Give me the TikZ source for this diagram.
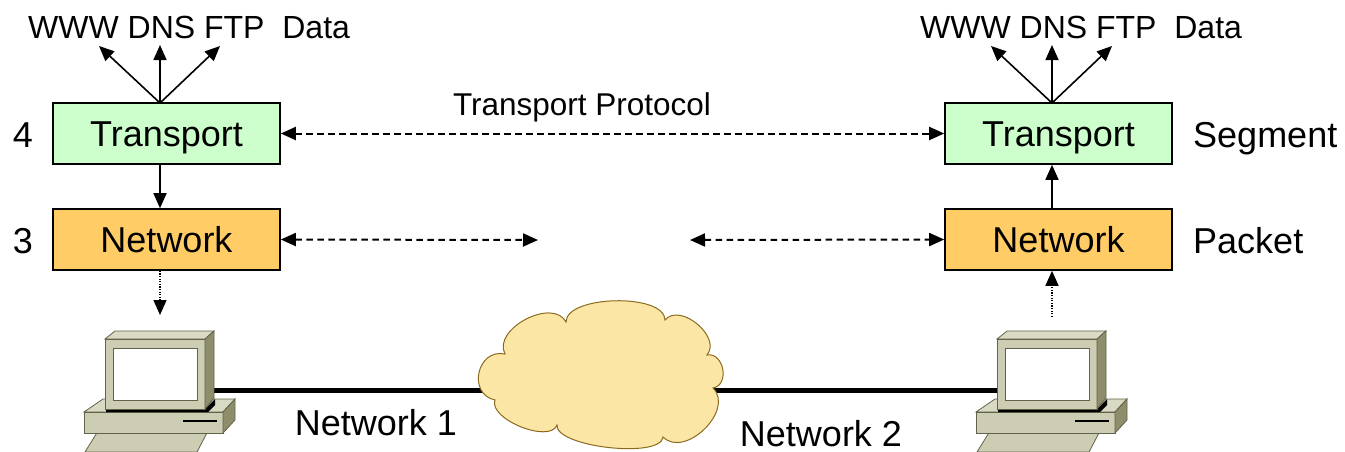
\documentclass[tikz,border=0pt]{standalone}
\usepackage{fontspec}
\setmainfont{Liberation Sans}
\usetikzlibrary{arrows.meta}

\definecolor{transportfill}{HTML}{CCFFCC}
\definecolor{networkfill}{HTML}{FFCC66}
\definecolor{cloudfill}{HTML}{FCE6A6}
\definecolor{cloudline}{HTML}{8B6A1E}
\definecolor{pcfront}{HTML}{CDCDB3}
\definecolor{pctop}{HTML}{DADAC4}
\definecolor{pcside}{HTML}{8E8E6C}
\definecolor{pcline}{HTML}{62624A}

\tikzset{
  layerbox/.style={draw=black, line width=1.6pt, minimum width=227pt,
    minimum height=61pt, inner sep=0pt, text height=26pt, text depth=0pt,
    font=\fontsize{36}{40}\selectfont},
  sidelabel/.style={inner sep=0pt, anchor=base, font=\fontsize{36}{40}\selectfont},
  applabel/.style={inner sep=0pt, anchor=base west, font=\fontsize{32}{36}\selectfont},
  protolabel/.style={inner sep=0pt, anchor=base, font=\fontsize{31.5}{34}\selectfont},
  tip/.style={-{Triangle[length=15pt,width=13pt]}},
  solidarrow/.style={tip, line width=1.6pt},
  peerarrow/.style={{Triangle[length=15pt,width=13pt]}-{Triangle[length=15pt,width=13pt]},
    line width=2pt, dash pattern=on 6.5pt off 4.5pt},
  dotarrow/.style={tip, line width=1.6pt, dash pattern=on 1.2pt off 1.4pt},
  cable/.style={line width=5pt, black},
  pc/.pic={
    % keyboard
    \filldraw[fill=pcfront, draw=pcline, line width=0.8pt]
      (-7,92) -- (103,92) -- (92,113) -- (-20,113) -- cycle;
    % base unit
    \filldraw[fill=pctop, draw=pcline, line width=0.8pt]
      (-21,73) -- (-2,60) -- (130,60) -- (118,73) -- cycle;
    \filldraw[fill=pcfront, draw=pcline, line width=0.8pt]
      (-21,73) rectangle (118,94);
    \filldraw[fill=pcside, draw=pcline, line width=0.8pt]
      (118,73) -- (130,60) -- (130,81) -- (118,94) -- cycle;
    \draw[line width=1.6pt, black] (78,82) -- (112,82);
    % shadow under the monitor
    \fill[black] (1,69) -- (101,69) -- (110,60) -- (110,66) -- (103,73) -- (1,73) -- cycle;
    % monitor
    \filldraw[fill=pctop, draw=pcline, line width=0.8pt]
      (0,0) -- (10,-8) -- (109,-8) -- (100,0) -- cycle;
    \filldraw[fill=pcfront, draw=pcline, line width=0.8pt]
      (0,0) rectangle (100,70);
    \filldraw[fill=pcside, draw=pcline, line width=0.8pt]
      (100,0) -- (109,-8) -- (109,59) -- (100,70) -- cycle;
    \filldraw[fill=white, draw=pcline, line width=0.8pt]
      (8,9) rectangle (92,61);
    \coordinate (-port) at (50,51);
  }
}

\begin{document}
\begin{tikzpicture}[x=1pt,y=-1pt]
\useasboundingbox (0,0) rectangle (1345,451);

% ---- protocol stacks ----
\node[layerbox, fill=transportfill] (tL) at (166.5,133.5) {Transport};
\node[layerbox, fill=networkfill]   (nL) at (166.5,239.5) {Network};
\node[layerbox, fill=transportfill] (tR) at (1058.5,133.5) {Transport};
\node[layerbox, fill=networkfill]   (nR) at (1058.5,239.5) {Network};

\node[sidelabel] (l4) at (23,147) {4};
\node[sidelabel] (l3) at (23,253) {3};
\node[sidelabel, anchor=base west] (seg) at (1193,147) {Segment};
\node[sidelabel, anchor=base west] (pkt) at (1193,253) {Packet};

% ---- applications above the transport layer ----
\foreach \side/\dx in {L/0, R/892} {
  \node[applabel] (apps\side) at (28+\dx,38) {WWW DNS FTP\ \ Data};
  \coordinate (fan\side) at (160+\dx,103);
  \coordinate (ax\side)  at (160+\dx,0);
  \coordinate (ta\side)  at (99+\dx,46);
  \coordinate (tb\side)  at (160+\dx,45);
  \coordinate (tc\side)  at (220+\dx,46);
  \draw[solidarrow] (fan\side) -- (ta\side);
  \draw[solidarrow] (fan\side) -- (tb\side);
  \draw[solidarrow] (fan\side) -- (tc\side);
}

% ---- vertical connectors between layers ----
\draw[solidarrow] (tL.south -| axL) -- (nL.north -| axL);
\draw[solidarrow] (nR.north -| axR) -- (tR.south -| axR);
\coordinate (downL) at (160,315);
\coordinate (upR)   at (1052,317);
\draw[dotarrow] (nL.south -| axL) -- (downL);
\draw[dotarrow] (upR) -- (nR.south -| axR);

% ---- peer-to-peer arrows ----
\node[protolabel] (proto) at (582,115) {Transport Protocol};
\draw[peerarrow] (tL.east) -- (tR.west);
\coordinate (netA) at (538,240);
\coordinate (netB) at (690,240);
\draw[peerarrow] (nL.east) -- (netA);
\draw[peerarrow] (netB) -- (nR.west);

% ---- physical network ----
\coordinate (pcL) at (105,339);
\coordinate (pcR) at (997,339);
\draw[cable] (105+50,390) -- (997+50,390);

\filldraw[fill=cloudfill, draw=cloudline, line width=1pt]
  (505,354) .. controls (492,329) and (553,297) .. (566,322)
            .. controls (566,295) and (665,293) .. (665,320)
            .. controls (680,302) and (722,337) .. (707,355)
            .. controls (724,352) and (730,385) .. (713,388)
            .. controls (735,410) and (685,459) .. (663,437)
            .. controls (661,459) and (555,447) .. (557,425)
            .. controls (550,444) and (488,419) .. (495,400)
            .. controls (467,394) and (477,348) .. (505,354) -- cycle;

\pic[name=pcL] at (pcL) {pc};
\pic[name=pcR] at (pcR) {pc};

\node[sidelabel] (net1) at (376,435) {Network 1};
\node[sidelabel] (net2) at (821,446) {Network 2};
\end{tikzpicture}
\end{document}
